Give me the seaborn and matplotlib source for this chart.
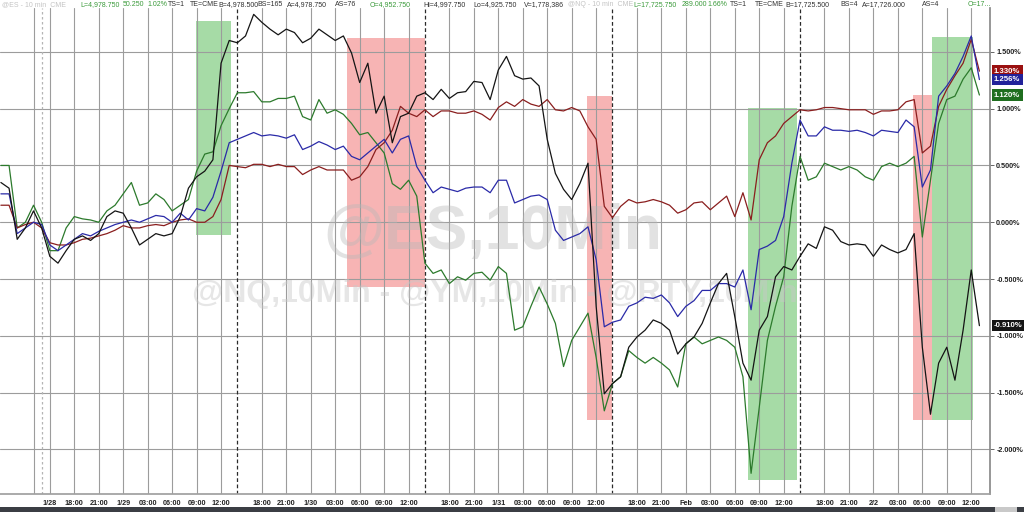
import numpy as np
import pandas as pd
import matplotlib
matplotlib.use("Agg")
import matplotlib.pyplot as plt
from matplotlib.patches import Rectangle
import seaborn as sns

# ---------------- data (percent change, sampled hourly in trading time) ----------------
hours = list(range(-5, 116))

es = [0.35, 0.3, -0.15, -0.05, 0.1, -0.05, -0.3, -0.36, -0.25, -0.15,
      -0.12, -0.16, -0.1, 0.05, 0.1, 0.08, -0.05, -0.2, -0.15, -0.1,
      -0.12, -0.1, 0.05, 0.3, 0.4, 0.45, 0.55, 1.4, 1.6, 1.58,
      1.64, 1.83, 1.76, 1.7, 1.65, 1.7, 1.67, 1.58, 1.62, 1.7,
      1.65, 1.6, 1.64, 1.49, 1.23, 1.4, 0.96, 1.11, 0.7, 0.93,
      0.96, 1.11, 1.14, 1.08, 1.17, 1.09, 1.14, 1.15, 1.24, 1.23,
      1.08, 1.34, 1.46, 1.29, 1.26, 1.27, 1.2, 0.73, 0.43, 0.29,
      0.2, 0.34, 0.52, -0.74, -1.51, -1.42, -1.36, -1.1, -1.01, -0.95,
      -0.86, -0.89, -0.95, -1.16, -1.07, -1.01, -0.89, -0.71, -0.54, -0.45,
      -0.83, -1.24, -1.39, -0.95, -0.83, -0.48, -0.39, -0.42, -0.3, -0.19,
      -0.23, -0.04, -0.07, -0.17, -0.2, -0.19, -0.2, -0.3, -0.2, -0.24,
      -0.27, -0.24, -0.1, -1.1, -1.69, -1.24, -1.1, -1.39, -0.95, -0.42,
      -0.91]

nq = [0.25, 0.25, -0.1, -0.05, 0.0, -0.02, -0.2, -0.25, -0.2, -0.15,
      -0.1, -0.12, -0.08, -0.05, -0.02, 0.0, 0.02, 0.0, 0.03, 0.06,
      0.05, 0.0, 0.08, 0.02, 0.12, 0.1, 0.22, 0.45, 0.7, 0.73,
      0.76, 0.79, 0.76, 0.77, 0.76, 0.74, 0.77, 0.64, 0.67, 0.71,
      0.68, 0.64, 0.67, 0.58, 0.55, 0.61, 0.67, 0.73, 0.61, 0.73,
      0.76, 0.49, 0.37, 0.26, 0.31, 0.29, 0.27, 0.3, 0.31, 0.31,
      0.26, 0.37, 0.37, 0.17, 0.2, 0.23, 0.24, 0.2, -0.07, -0.16,
      -0.13, -0.1, -0.04, -0.33, -0.92, -0.88, -0.86, -0.74, -0.71, -0.66,
      -0.67, -0.64, -0.71, -0.83, -0.74, -0.69, -0.6, -0.6, -0.54, -0.54,
      -0.57, -0.42, -0.77, -0.24, -0.21, -0.16, 0.05, 0.52, 0.9, 0.76,
      0.76, 0.84, 0.81, 0.81, 0.8, 0.81, 0.79, 0.76, 0.81, 0.8,
      0.79, 0.9, 0.84, 0.31, 0.46, 1.11, 1.2, 1.31, 1.46, 1.64,
      1.256]

ym = [0.15, 0.15, -0.05, -0.02, 0.0, -0.05, -0.18, -0.2, -0.2, -0.18,
      -0.15, -0.14, -0.12, -0.1, -0.07, -0.03, -0.05, -0.05, -0.03, -0.02,
      -0.03, 0.0, 0.02, 0.03, 0.0, 0.0, 0.05, 0.2, 0.5, 0.49,
      0.48, 0.51, 0.51, 0.49, 0.51, 0.49, 0.49, 0.42, 0.46, 0.49,
      0.46, 0.46, 0.46, 0.37, 0.4, 0.49, 0.64, 0.7, 0.81, 1.02,
      0.96, 0.93, 0.99, 0.93, 0.98, 0.98, 0.96, 0.96, 0.98, 0.95,
      0.9, 1.01, 1.06, 1.02, 1.08, 1.04, 1.02, 1.08, 0.99, 0.98,
      1.01, 0.98, 0.84, 0.73, 0.14, 0.04, 0.14, 0.2, 0.17, 0.18,
      0.2, 0.18, 0.15, 0.08, 0.11, 0.17, 0.18, 0.11, 0.17, 0.23,
      0.05, 0.26, 0.02, 0.55, 0.7, 0.76, 0.87, 0.93, 0.99, 0.98,
      0.99, 1.01, 1.01, 1.0, 0.99, 0.99, 0.99, 0.95, 0.98, 0.98,
      0.99, 1.06, 1.08, 0.61, 0.67, 1.02, 1.17, 1.29, 1.4, 1.61,
      1.33]

rty = [0.5, 0.5, -0.05, 0.0, 0.15, 0.0, -0.25, -0.25, -0.05, 0.05,
       0.03, 0.02, 0.0, 0.1, 0.15, 0.25, 0.35, 0.15, 0.17, 0.25,
       0.2, 0.1, 0.15, 0.2, 0.45, 0.6, 0.62, 0.85, 1.0, 1.14,
       1.14, 1.15, 1.06, 1.06, 1.09, 1.09, 1.11, 0.93, 0.9, 1.08,
       0.96, 0.99, 0.95, 0.87, 0.77, 0.79, 0.7, 0.61, 0.34, 0.29,
       0.37, 0.23, -0.36, -0.45, -0.42, -0.54, -0.48, -0.51, -0.45, -0.44,
       -0.51, -0.39, -0.45, -0.95, -0.92, -0.74, -0.57, -0.72, -0.89, -1.27,
       -1.04, -0.92, -0.8, -1.19, -1.66, -1.42, -1.36, -1.13, -1.19, -1.24,
       -1.19, -1.24, -1.3, -1.45, -1.07, -1.01, -1.07, -1.04, -1.01, -1.04,
       -1.1, -1.36, -2.21, -1.63, -1.04, -0.74, -0.48, 0.14, 0.58, 0.37,
       0.4, 0.52, 0.49, 0.46, 0.49, 0.46, 0.4, 0.37, 0.49, 0.52,
       0.49, 0.52, 0.58, -0.13, 0.37, 0.87, 1.08, 1.11, 1.26, 1.36,
       1.12]

symbols = ["RTY", "YM", "NQ", "ES"]          # drawing order
line_colors = {"ES": "#141414", "NQ": "#2a2aa8", "YM": "#8a1e1e", "RTY": "#2c7a2c"}
label_colors = {"ES": "#141414", "NQ": "#22229a", "YM": "#9a1010", "RTY": "#1f6e1f"}

# x ticks (trading-time hours) and labels
tick_pos = [-1, 1, 4, 7, 10, 13, 16, 19, 22,
            27, 30, 33, 36, 39, 42, 45,
            50, 53, 56, 59, 62, 65, 68,
            73, 76, 79, 82, 85, 88, 91,
            96, 99, 102, 105, 108, 111, 114]
tick_lab = ["", "1/28", "18:00", "21:00", "1/29", "03:00", "06:00", "09:00", "12:00",
            "18:00", "21:00", "1/30", "03:00", "06:00", "09:00", "12:00",
            "18:00", "21:00", "1/31", "03:00", "06:00", "09:00", "12:00",
            "18:00", "21:00", "Feb", "03:00", "06:00", "09:00", "12:00",
            "18:00", "21:00", "2/2", "03:00", "06:00", "09:00", "12:00"]
session_breaks = [24, 47, 70, 93]
weekend_break = [0]

# highlighted boxes
box_start = [18.9, 37.4, 66.9, 86.6, 106.8, 109.15]
box_end = [23.2, 47.0, 69.9, 92.6, 109.15, 114.2]
box_low = [-0.11, -0.57, -1.74, -2.27, -1.74, -1.74]
box_high = [1.77, 1.62, 1.11, 1.01, 1.12, 1.63]
box_kind = ["up", "down", "down", "up", "down", "up"]
box_colors = {"up": "#a6dba6", "down": "#f7b4b4"}

y_ticks = [-2.0, -1.5, -1.0, -0.5, 0.0, 0.5, 1.0, 1.5]

# header strip
hdr_x = [2, 80, 123, 147, 168, 190, 218, 257, 287, 335, 370, 423, 473, 524,
         568, 633, 682, 707, 730, 755, 785, 840, 862, 922, 968]
hdr_txt = ["@ES - 10 min  CME", "L=4,978.750", "50.250", "1.02%", "TS=1", "TE=CME",
           "B=4,978.500", "BS=165", "A=4,978.750", "AS=76", "O=4,952.750",
           "Hi=4,997.750", "Lo=4,925.750", "V=1,778,386",
           "@NQ - 10 min  CME", "L=17,725.750", "289.000", "1.66%", "TS=1", "TE=CME",
           "B=17,725.500", "BS=4", "A=17,726.000", "AS=4", "O=17..."]
hdr_kind = ["f", "g", "g", "g", "k", "k", "k", "k", "k", "k", "g", "k", "k", "k",
            "f", "g", "g", "g", "k", "k", "k", "k", "k", "k", "g"]
hdr_colors = {"f": "#c4c4c4", "g": "#3a9a3a", "k": "#303030"}

# ---------------- build ----------------
sns.set_theme(style="white")
plt.rcParams["font.family"] = ["Liberation Sans", "DejaVu Sans"]

series = {"ES": es, "NQ": nq, "YM": ym, "RTY": rty}
df = pd.concat([pd.DataFrame({"t": hours, "pct": series[s], "sym": s}) for s in symbols],
               ignore_index=True)

W, H = 1024, 512
fig = plt.figure(figsize=(W / 100, H / 100), dpi=100)
ax = fig.add_axes([0.0, 18 / H, 990 / W, (494 - 8) / H])

for s, e, lo, hi, k in zip(box_start, box_end, box_low, box_high, box_kind):
    ax.add_patch(Rectangle((s, lo), e - s, hi - lo, facecolor=box_colors[k],
                           edgecolor="none", zorder=0.3))

ax.text(55.3, -0.09, "@ES,10Min", fontsize=45, fontweight="bold", color="#b8b8b8",
        alpha=0.4, ha="center", va="center", zorder=0.8)
ax.text(55.6, -0.63, "@NQ,10Min - @YM,10Min - @RTY,10Min", fontsize=23,
        fontweight="bold", color="#c8c8c8", alpha=0.45, ha="center", va="center",
        zorder=0.8)

sns.lineplot(data=df, x="t", y="pct", hue="sym", hue_order=symbols,
             palette=line_colors, estimator=None, linewidth=0.9, legend=False,
             ax=ax, zorder=3)

ax.set_xlim(-5.11, 116.3)
ax.set_ylim(-2.392, 1.886)
ax.set_xticks(tick_pos, tick_lab)
ax.set_yticks(y_ticks, [f"{v:.3f}%" for v in y_ticks])
ax.yaxis.tick_right()
ax.set_xlabel("")
ax.set_ylabel("")
ax.set_axisbelow(True)
ax.grid(True, color="#9c9c9c", linewidth=0.8)
ax.tick_params(axis="x", length=0, pad=4, labelsize=5.2, labelcolor="#222222")
ax.tick_params(axis="y", length=3, width=0.7, color="#666666", pad=1.5,
               labelsize=5.2, labelcolor="#222222", right=True, left=False)
for lab in ax.get_xticklabels() + ax.get_yticklabels():
    lab.set_fontweight("bold")

for b in session_breaks:
    ax.axvline(b, color="#2a2a2a", linewidth=0.9, linestyle=(0, (3, 2)), zorder=1)
for b in weekend_break:
    ax.axvline(b, color="#b5b5b5", linewidth=0.9, linestyle=(0, (2, 2)), zorder=1)

for side in ["left", "top"]:
    ax.spines[side].set_visible(False)
ax.spines["right"].set_color("#8a8a8a")
ax.spines["bottom"].set_color("#a0a0a0")

# last-value labels on the price axis
ytrans = ax.get_yaxis_transform()
for s in ["YM", "NQ", "RTY", "ES"]:
    v = series[s][-1]
    ax.text(1.004, v, f"{v:.3f}%", transform=ytrans, fontsize=5.6, fontweight="bold",
            color="white", ha="left", va="center", zorder=5, clip_on=False,
            bbox=dict(boxstyle="square,pad=0.3", facecolor=label_colors[s],
                      edgecolor="none"))

# header strip
for x, txt, k in zip(hdr_x, hdr_txt, hdr_kind):
    fig.text(x / W, 1 - 4.5 / H, txt, fontsize=5.0, color=hdr_colors[k],
             ha="left", va="center")

# bottom status bar
fig.patches.append(Rectangle((0, 0), 1, 5 / H, transform=fig.transFigure,
                             facecolor="#3b3e44", edgecolor="none", zorder=0))
fig.patches.append(Rectangle((995 / W, 0), 22 / W, 5 / H, transform=fig.transFigure,
                             facecolor="#c9c9c9", edgecolor="none", zorder=1))

fig.savefig("out.png", dpi=100, facecolor="white")
